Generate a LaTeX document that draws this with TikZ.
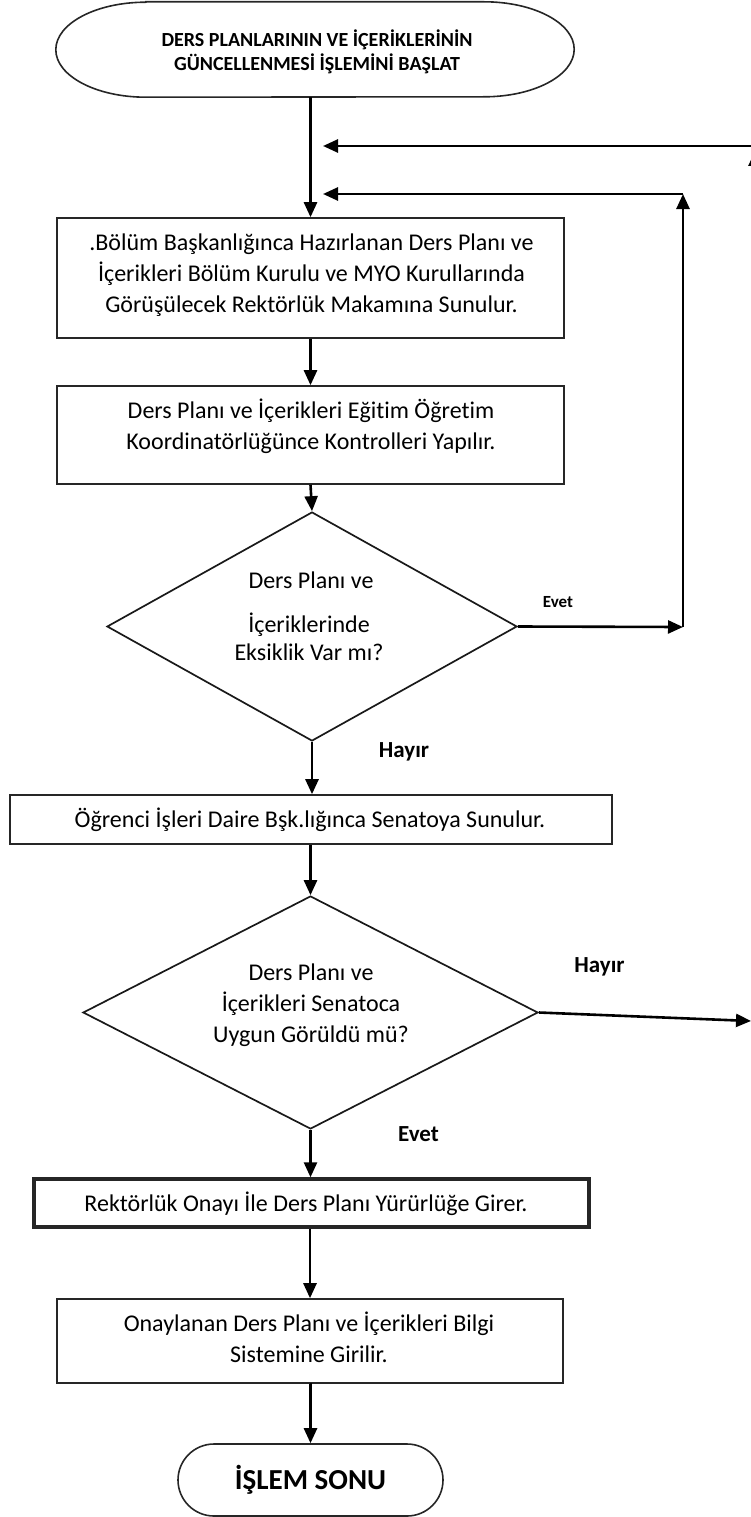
\documentclass[tikz,border=0pt]{standalone}
\usepackage{fontspec}
\setmainfont{Carlito}[Ligatures=NoCommon]
\usetikzlibrary{arrows.meta,shapes.geometric,shapes.misc}

\begin{document}
\begin{tikzpicture}[x=1pt,y=-1pt,
  body/.style={font=\fontsize{24}{31}\selectfont, align=center, inner sep=0pt,
               execute at begin node=\strut, execute at end node=\strut},
  stepbox/.style={draw=black!85, line width=1.6pt, inner sep=0pt, rectangle},
  decision/.style={draw=black!90, line width=1.7pt, diamond, inner sep=0pt},
  flow/.style={line width=2.6pt, -{Triangle[length=15pt,width=13pt]}},
  lbl/.style={font=\bfseries\fontsize{23}{27}\selectfont, inner sep=0pt},
]
\useasboundingbox (0,0) rectangle (751,1517);

% ---- start terminator
\node[minimum width=518pt, minimum height=95pt, inner sep=0pt] (start) at (315,49.5) {};
\draw[black!85, line width=1.6pt]
  ([xshift=90pt]start.north west) -- ([xshift=-90pt]start.north east)
  arc[start angle=90, end angle=-90, x radius=90pt, y radius=47.5pt]
  -- ([xshift=90pt]start.south west)
  arc[start angle=270, end angle=90, x radius=90pt, y radius=47.5pt] -- cycle;
\node[font=\bfseries\fontsize{20}{24}\selectfont, align=center, inner sep=0pt,
      execute at begin node=\strut, execute at end node=\strut] (startt) at (317,54)
  {DERS PLANLARININ VE İÇERİKLERİNİN\\GÜNCELLENMESİ İŞLEMİNİ BAŞLAT};

% ---- process boxes
\node[stepbox, minimum width=507pt, minimum height=120pt] (b1) at (310.5,278) {};
\node[body] (b1t) at (311.5,278)
  {.Bölüm Başkanlığınca Hazırlanan Ders Planı ve\\İçerikleri Bölüm Kurulu ve MYO Kurullarında\\Görüşülecek Rektörlük Makamına Sunulur.};

\node[stepbox, minimum width=507pt, minimum height=98pt] (b2) at (310.5,435) {};
\node[body] (b2t) at (311,429)
  {Ders Planı ve İçerikleri Eğitim Öğretim\\Koordinatörlüğünce Kontrolleri Yapılır.};

% ---- first decision
\node[decision, minimum width=410pt, minimum height=229pt] (d1) at (312,626.5) {};
\node[body] (d1a) at (311,582) {Ders Planı ve};
\node[font=\fontsize{24}{27.5}\selectfont, align=center, inner sep=0pt,
      execute at begin node=\strut, execute at end node=\strut] (d1b) at (309,641)
  {İçeriklerinde\\Eksiklik Var mı?};

\node[stepbox, minimum width=602pt, minimum height=49pt] (b3) at (311,819.5) {};
\node[body] (b3t) at (310,821) {Öğrenci İşleri Daire Bşk.lığınca Senatoya Sunulur.};

% ---- second decision
\node[decision, minimum width=455pt, minimum height=233pt] (d2) at (310.5,1012.5) {};
\node[body] (d2t) at (311,1008)
  {Ders Planı ve\\İçerikleri Senatoca\\Uygun Görüldü mü?};

\node[stepbox, line width=3.4pt, minimum width=555pt, minimum height=48pt] (b4) at (311.5,1203) {};
\node[body] (b4t) at (306,1205) {Rektörlük Onayı İle Ders Planı Yürürlüğe Girer.};

\node[stepbox, minimum width=506pt, minimum height=84pt] (b5) at (310,1341) {};
\node[body] (b5t) at (309,1342)
  {Onaylanan Ders Planı ve İçerikleri Bilgi\\Sistemine Girilir.};

% ---- end terminator
\node[draw=black!85, line width=1.6pt, rounded rectangle, minimum width=265pt,
      minimum height=72pt, inner sep=0pt,
      font=\bfseries\fontsize{29}{34}\selectfont] (end) at (310.5,1480) {İŞLEM SONU};

% ---- branch labels
\node[font=\bfseries\fontsize{17}{20}\selectfont, inner sep=0pt] (evet1) at (558,602) {Evet};
\node[lbl] (hayir1) at (404,752) {Hayır};
\node[lbl] (hayir2) at (599.5,967) {Hayır};
\node[lbl] (evet2) at (418.5,1134) {Evet};

% ---- loop-back points
\coordinate (j1) at (323,146);
\coordinate (j2) at (323,194);
\coordinate (e1) at (683,627);
\coordinate (e2) at (683,194);
\coordinate (h1) at (751,1021);
\coordinate (h2) at (755,1021);
\coordinate (h3) at (755,151);
\coordinate (h4) at (755,146);

% ---- main flow
\draw[flow] (start.south -| b1.north) -- (b1.north);
\draw[flow] (b1.south) -- (b2.north);
\draw[flow] (b2.south) -- (d1.north);
\draw[flow] (d1.south) -- (d1.south |- b3.north);
\draw[flow] (b3.south -| d2.north) -- (d2.north);
\draw[flow] (d2.south) -- (d2.south |- b4.north);
\draw[flow] (b4.south -| b5.north) -- (b5.north);
\draw[flow] (b5.south) -- (b5.south -| end.north) -- (end.north);

% ---- "Evet" loop of the first decision
\draw[flow] (d1.east) -- (e1);
\draw[flow] (e1) -- (e2);
\draw[flow] (e2) -- (j2);

% ---- "Hayır" loop of the second decision
\draw[flow] (d2.east) -- (h1);
\draw[flow] (h2) -- (h3);
\draw[flow] (h4) -- (j1);
\end{tikzpicture}
\end{document}
